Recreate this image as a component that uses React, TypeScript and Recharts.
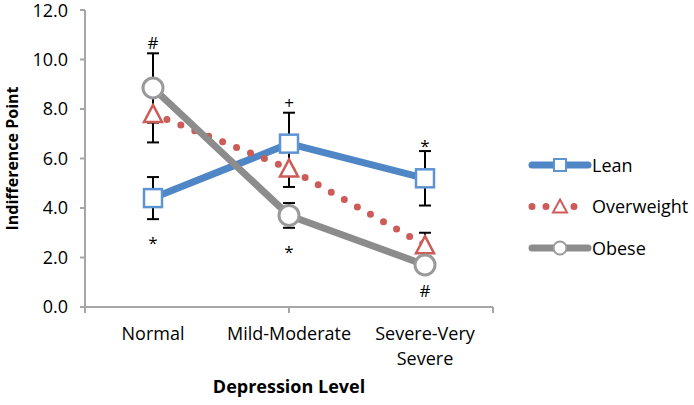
import React from 'react'
import { LineChart, Line, XAxis, YAxis, ErrorBar, LabelList, Legend } from 'recharts'

const categories = ['Normal', 'Mild-Moderate', 'Severe-Very Severe']
const leanValues = [4.4, 6.6, 5.2]
const leanErrors = [0.85, 1.25, 1.1]
const overweightValues = [7.8, 5.6, 2.5]
const overweightErrors = [1.15, 0.75, 0.5]
const obeseValues = [8.85, 3.7, 1.7]
const obeseErrors = [1.4, 0.5, 0.3]
// significance marks shown above / below the error bars
const leanMarksAbove = ['', '+', '*']
const leanMarksBelow = ['*', '', '']
const obeseMarksAbove = ['#', '', '']
const obeseMarksBelow = ['', '*', '#']
const yTicks = [0, 2, 4, 6, 8, 10, 12]

const BLUE = '#4f86c6'
const RED = '#cd5b57'
const GRAY = '#8c8c8c'
const AXIS = '#a6a6a6'
const FONT = '"Open Sans", sans-serif'

const W = 694
const H = 405
const TOP = 10
const X_AXIS_H = 98
const PX_PER_UNIT = (H - TOP - X_AXIS_H) / 12

const data = categories.map((name, i) => ({
  name,
  pos: i + 0.5,
  lean: leanValues[i],
  leanErr: leanErrors[i],
  overweight: overweightValues[i],
  overweightErr: overweightErrors[i],
  obese: obeseValues[i],
  obeseErr: obeseErrors[i],
  leanAbove: leanMarksAbove[i],
  leanBelow: leanMarksBelow[i],
  obeseAbove: obeseMarksAbove[i],
  obeseBelow: obeseMarksBelow[i],
}))

const glyphLift: Record<string, number> = { '#': 6, '+': 6, '*': 11 }

const markLabel = (errors: number[], above: boolean) => (props: any) => {
  const { value, index } = props
  if (!value) return null
  const x = props.viewBox?.x ?? props.x
  const y = props.viewBox?.y ?? props.y
  const err = errors[index] * PX_PER_UNIT
  const center = above ? y - err - 10 : y + err + 19
  return (
    <text x={x} y={center + (glyphLift[value] ?? 6)} textAnchor="middle" fontSize={17} fontFamily={FONT} fill="#000">
      {value}
    </text>
  )
}

const squareDot = (p: any) => (
  <rect key={`sq-${p.index}`} x={p.cx - 9} y={p.cy - 9} width={18} height={18} fill="#fff" stroke="#5f94d2" strokeWidth={2.5} />
)
const triangleDot = (p: any) => (
  <path key={`tr-${p.index}`} d={`M${p.cx},${p.cy - 9} L${p.cx + 9},${p.cy + 8} L${p.cx - 9},${p.cy + 8} Z`} fill="#fff" stroke={RED} strokeWidth={2.5} />
)
const circleDot = (p: any) => (
  <circle key={`ci-${p.index}`} cx={p.cx} cy={p.cy} r={10} fill="#fff" stroke="#9a9a9a" strokeWidth={3} />
)

// wraps the long category name onto two lines like the original
const CategoryTick = ({ x, y, payload }: any) => {
  const label = categories[Math.floor(payload.value)] ?? ''
  const cut = label.lastIndexOf(' ')
  const lines = label.length > 14 && cut > 0 ? [label.slice(0, cut), label.slice(cut + 1)] : [label]
  return (
    <text x={x} y={y} textAnchor="middle" fontSize={18} fontFamily={FONT} fill="#000">
      {lines.map((l, i) => (
        <tspan key={i} x={x} dy={i === 0 ? 13 : 25}>{l}</tspan>
      ))}
    </text>
  )
}

const legendItems = [
  { name: 'Lean', color: BLUE, dash: undefined, marker: 'square' },
  { name: 'Overweight', color: RED, dash: '0 14', marker: 'triangle' },
  { name: 'Obese', color: GRAY, dash: undefined, marker: 'circle' },
]

const renderLegend = () => (
  <svg width={166} height={124}>
    {legendItems.map((item, i) => {
      const cy = 18 + i * 41.5
      const cx = 33
      return (
        <g key={item.name}>
          <line x1={5} x2={61} y1={cy} y2={cy} stroke={item.color} strokeWidth={7} strokeLinecap="round" strokeDasharray={item.dash} />
          {item.marker === 'square' && <rect x={cx - 6} y={cy - 6} width={12} height={12} fill="#fff" stroke="#5f94d2" strokeWidth={2} />}
          {item.marker === 'triangle' && <path d={`M${cx},${cy - 7} L${cx + 7},${cy + 6} L${cx - 7},${cy + 6} Z`} fill="#fff" stroke={RED} strokeWidth={2} />}
          {item.marker === 'circle' && <circle cx={cx} cy={cy} r={6.5} fill="#fff" stroke="#9a9a9a" strokeWidth={2} />}
          <text x={65} y={cy + 6.5} fontSize={18} fontFamily={FONT} fill="#000">{item.name}</text>
        </g>
      )
    })}
  </svg>
)

export default function App() {
  return (
    <div style={{ position: 'absolute', left: 0, top: 0, width: W, height: H, background: '#fff' }}>
      <LineChart width={W} height={H} data={data} margin={{ top: TOP, right: 201, bottom: 0, left: 0 }}>
        <XAxis
          xAxisId="b_cat"
          dataKey="pos"
          type="number"
          domain={[0, 3]}
          ticks={[0.5, 1.5, 2.5]}
          height={X_AXIS_H - 1}
          axisLine={false}
          tickLine={false}
          tickSize={0}
          tickMargin={19}
          tick={<CategoryTick />}
          label={{ value: 'Depression Level', position: 'insideBottom', offset: 12, fontSize: 18, fontWeight: 'bold', fontFamily: FONT, fill: '#000' }}
        />
        <XAxis
          xAxisId="a_frame"
          type="number"
          domain={[0, 3]}
          ticks={[0, 1, 2, 3]}
          tickFormatter={() => ''}
          height={1}
          tickSize={6}
          stroke={AXIS}
          strokeWidth={2}
        />
        <YAxis
          domain={[0, 12]}
          ticks={yTicks}
          tickFormatter={(v: number) => v.toFixed(1)}
          width={85}
          tickSize={5}
          tickMargin={12}
          stroke={AXIS}
          strokeWidth={2}
          tick={{ fill: '#000', fontSize: 18, fontFamily: FONT }}
          label={{ value: 'Indifference Point', angle: -90, position: 'insideLeft', offset: 12, fontSize: 16, fontWeight: 'bold', fontFamily: FONT, fill: '#000', style: { textAnchor: 'middle' } }}
        />
        <Legend verticalAlign="middle" align="center" layout="horizontal" wrapperStyle={{ left: 527, top: 147, width: 166 }} content={renderLegend} />
        <Line xAxisId="b_cat" dataKey="lean" name="Lean" stroke={BLUE} strokeWidth={7} dot={squareDot} isAnimationActive={false}>
          <ErrorBar dataKey="leanErr" width={6} stroke="#000" strokeWidth={2} direction="y" />
          <LabelList dataKey="leanAbove" content={markLabel(leanErrors, true)} />
          <LabelList dataKey="leanBelow" content={markLabel(leanErrors, false)} />
        </Line>
        <Line xAxisId="b_cat" dataKey="overweight" name="Overweight" stroke={RED} strokeWidth={7} strokeDasharray="0 15" strokeLinecap="round" dot={triangleDot} isAnimationActive={false}>
          <ErrorBar dataKey="overweightErr" width={6} stroke="#000" strokeWidth={2} direction="y" />
        </Line>
        <Line xAxisId="b_cat" dataKey="obese" name="Obese" stroke={GRAY} strokeWidth={7} dot={circleDot} isAnimationActive={false}>
          <ErrorBar dataKey="obeseErr" width={6} stroke="#000" strokeWidth={2} direction="y" />
          <LabelList dataKey="obeseAbove" content={markLabel(obeseErrors, true)} />
          <LabelList dataKey="obeseBelow" content={markLabel(obeseErrors, false)} />
        </Line>
      </LineChart>
    </div>
  )
}
